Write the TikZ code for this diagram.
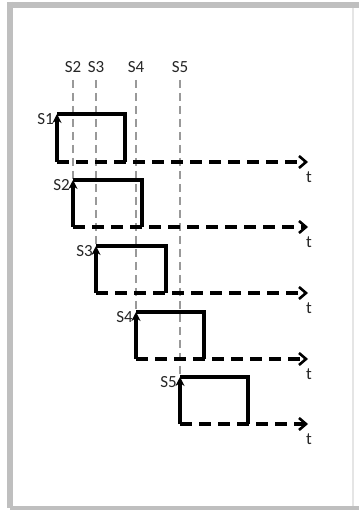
\documentclass[tikz,border=0pt]{standalone}
\usepackage{fontspec}
\setmainfont{Carlito}
\usetikzlibrary{arrows.meta}
\begin{document}
\begin{tikzpicture}[x=1pt,y=-1pt,
  lbl/.style={font=\fontsize{17}{17}\selectfont, text=black!85, inner sep=0pt},
  guide/.style={draw=black!40, line width=2pt, dash pattern=on 8pt off 5pt},
  pulse/.style={draw=black, line width=3.2pt},
  rise/.style={pulse, -{Stealth[length=9pt,width=9pt]}},
  axis/.style={draw=black, line width=3.2pt, dash pattern=on 12pt off 7pt, -{Straight Barb[length=7pt,width=12pt,line width=2.6pt]}},
  frame/.style={draw=black!25}]
\useasboundingbox (0,0) rectangle (359,510);
\fill[white] (0,0) rectangle (359,510);
% frame
\draw[frame, line width=6pt] (10,5) -- (359,5);
\draw[frame, line width=6pt] (10,2) -- (10,508);
\draw[frame, line width=4pt] (10,508) -- (359,508);
\draw[draw=black!10, line width=2pt] (353,8) -- (353,506);
% top labels
\foreach \n/\x in {2/73,3/96,4/136,5/180}{
  \node[lbl] (top\n) at (\x,67) {S\n};
}
% pulses: name/rise x/top y/base y/end x
\foreach \n/\x/\ty/\by/\ex in {1/57/114/162/125, 2/73/180/227/142, 3/96/246/293/166, 4/136/312/359/204, 5/180/377/424/248}{
  \coordinate (b\n) at (\x,\by);
  \coordinate (h\n) at (\x,\ty);
  \coordinate (e\n) at (\ex,\ty);
  \coordinate (f\n) at (\ex,\by);
  \coordinate (a\n) at (308,\by);
  \node[lbl, anchor=east] (s\n) at (\x-3,\ty+5) {S\n};
  \node[lbl] (t\n) at (309,\by+15) {t};
}
% guides
\foreach \n in {2,3,4,5}{
  \draw[guide] (top\n.south) ++(0,7) -- (h\n);
}
% axes
\foreach \n in {1,...,5}{
  \draw[axis] (b\n) -- (a\n);
  \draw[rise] (b\n) -- (h\n);
  \draw[pulse] (h\n) -- (e\n) -- (f\n);
}
\end{tikzpicture}
\end{document}
